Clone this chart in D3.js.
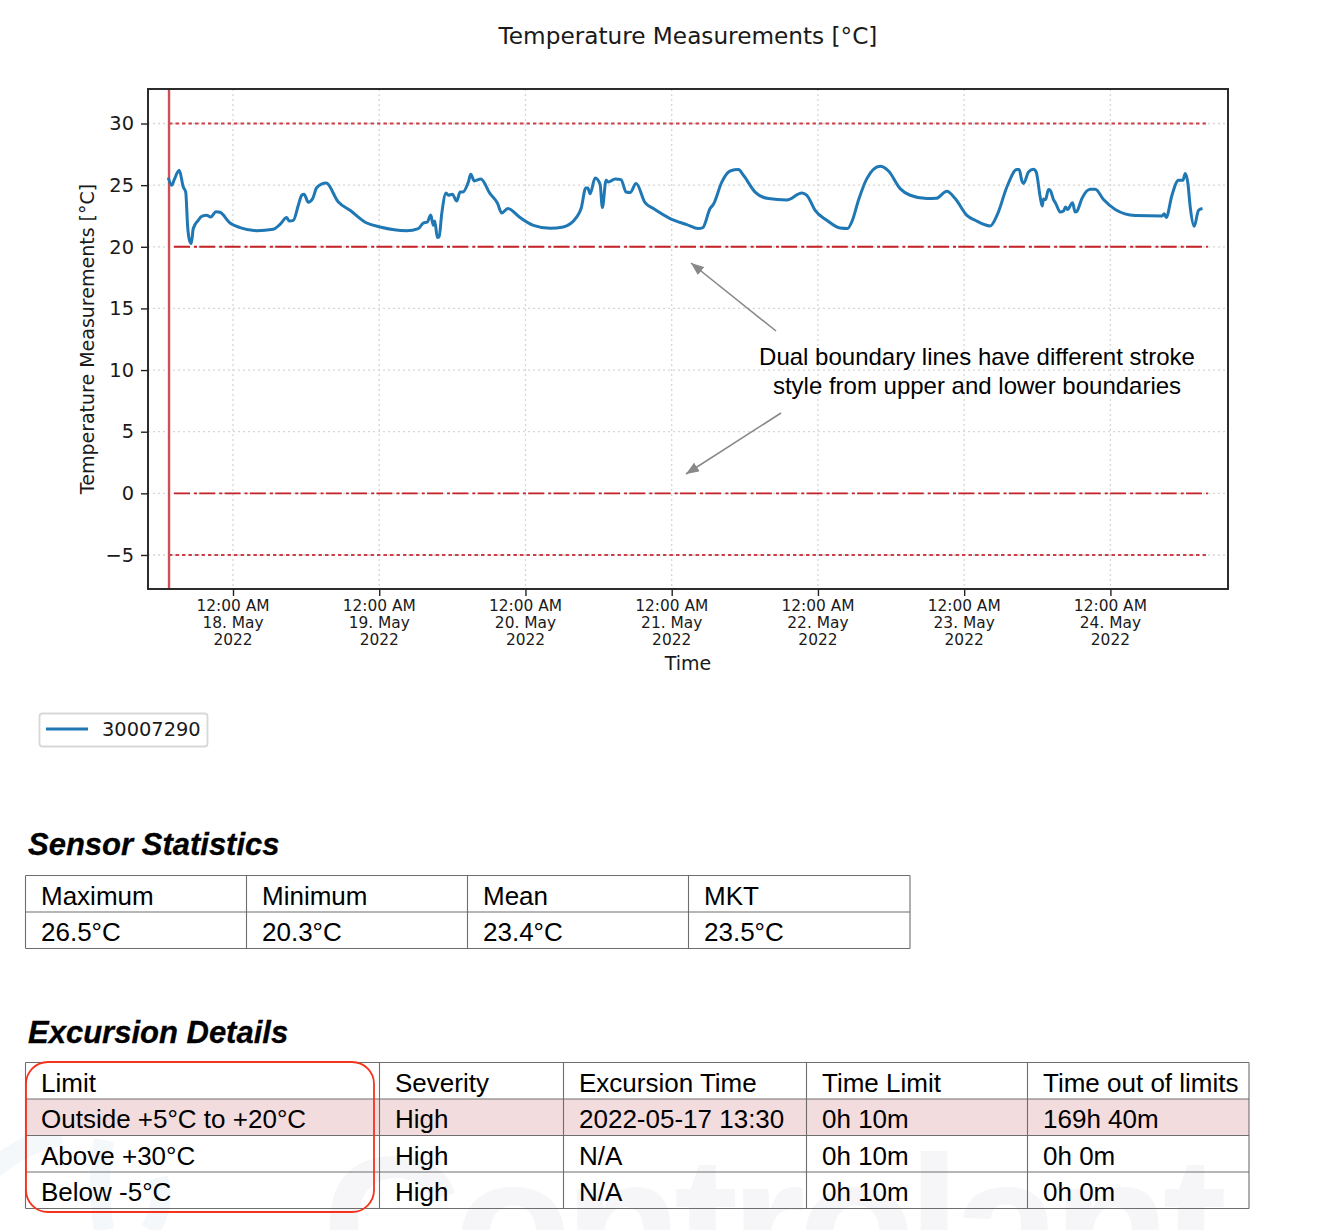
<!DOCTYPE html>
<html>
<head>
<meta charset="utf-8">
<script src="https://cdn.jsdelivr.net/npm/d3@7"></script>
<style>
  html, body { margin: 0; padding: 0; background: #fff; }
  svg { display: block; }
  .mpl { font-family: "DejaVu Sans"; fill: #1a1a1a; }
  .doc { font-family: "Liberation Sans"; fill: #000; }
</style>
</head>
<body>
<svg id="page" width="1329" height="1230"></svg>
<script>
// hours since 18 May 2022 00:00
var hours = [-10.62,-10.06,-9.64,-8.82,-8.16,-7.76,-7.44,-7.17,-6.85,-6.52,-5.70,-5.14,-4.32,-3.66,-2.79,-2.13,-0.49,1.15,3.89,6.62,7.72,8.82,9.24,9.90,10.72,11.28,11.66,12.36,13.08,13.74,15.27,17.29,19.21,21.95,24.13,28.51,30.42,31.24,31.90,32.45,32.88,33.11,33.54,33.82,34.26,34.97,35.34,36.00,36.72,37.26,37.71,38.63,39.02,39.61,40.66,42.19,43.39,44.11,45.10,47.11,49.30,52.04,54.22,56.42,57.13,57.90,58.23,58.61,59.43,60.25,60.62,61.23,61.61,62.71,63.69,64.51,65.17,66.16,67.63,69.00,71.74,74.48,76.38,77.11,78.30,78.85,80.22,81.59,82.95,83.77,85.69,87.87,90.90,93.36,94.18,95.54,97.46,99.65,100.84,101.66,102.65,104.03,106.21,107.58,109.49,111.14,113.88,115.40,117.16,118.52,120.44,121.81,124.27,125.47,127.01,128.65,129.03,129.47,129.74,130.56,131.38,131.82,132.48,132.81,133.02,133.35,133.84,134.12,134.66,135.05,135.76,136.30,136.63,136.96,137.78,138.22,138.50,139.32,140.69,141.51,142.87,144.79,148.07,152.45,152.83,153.16,154.10,155.18,155.90,156.28,156.72,157.10,157.76,158.46,159.12];
var temps = [25.61,24.99,25.45,26.20,24.85,24.44,21.61,20.58,20.26,21.48,22.15,22.47,22.55,22.42,22.85,22.80,21.93,21.56,21.31,21.42,21.82,22.37,22.09,22.15,23.37,24.18,24.26,23.61,23.91,24.80,25.17,23.63,22.96,21.93,21.61,21.31,21.48,21.93,22.01,22.58,21.74,22.09,20.75,20.79,22.69,24.36,24.18,24.26,23.71,24.44,24.44,25.26,25.88,25.34,25.50,24.31,23.55,22.74,23.10,22.37,21.74,21.50,21.61,22.42,23.10,24.77,24.77,24.31,25.58,25.07,23.18,25.39,25.25,25.50,25.45,24.44,24.40,25.13,23.58,23.10,22.29,21.80,21.48,21.56,23.10,23.45,25.25,26.15,26.26,25.80,24.44,23.91,23.80,24.36,24.18,22.96,22.15,21.52,21.48,22.15,23.77,25.53,26.53,26.15,24.72,24.18,23.91,23.93,24.50,23.91,22.55,22.15,21.69,22.64,24.85,26.26,26.26,25.34,25.13,26.07,26.29,26.07,24.04,23.31,23.88,23.83,24.64,24.58,23.83,23.50,22.82,22.90,23.23,23.02,23.58,22.82,22.88,23.91,24.66,24.66,23.83,23.02,22.53,22.50,22.69,22.37,24.18,25.39,25.39,25.94,25.13,23.23,21.66,22.96,23.10];

var yTicks = [-5, 0, 5, 10, 15, 20, 25, 30];
var tickDays = [18, 19, 20, 21, 22, 23, 24];
var upperLower = [30, -5];
var dualBounds = [20, 0];
var excursionStart = -10.5;
var boundaryEnd = 160;
var seriesName = '30007290';

var statsHead = ['Maximum', 'Minimum', 'Mean', 'MKT'];
var statsRow = ['26.5°C', '20.3°C', '23.4°C', '23.5°C'];
var excursionHead = ['Limit', 'Severity', 'Excursion Time', 'Time Limit', 'Time out of limits'];
var excursionRows = [
  ['Outside +5°C to +20°C', 'High', '2022-05-17 13:30', '0h 10m', '169h 40m'],
  ['Above +30°C', 'High', 'N/A', '0h 10m', '0h 0m'],
  ['Below -5°C', 'High', 'N/A', '0h 10m', '0h 0m']
];

var svg = d3.select('#page');

// watermark sits behind everything
var mark = svg.append('g').attr('fill', '#f6f6f8');
mark.append('text')
  .attr('x', 322).attr('y', 1292)
  .attr('font-family', 'Liberation Sans').attr('font-weight', 'bold')
  .attr('font-size', 194).attr('textLength', 905)
  .text('Controlant');
// faint logo swooshes at the left edge
mark.append('path')
  .attr('d', 'M-6,1168 Q30,1140 62,1136 M104,1230 Q96,1180 104,1140 M150,1230 Q166,1205 158,1178')
  .attr('fill', 'none').attr('stroke', '#f5f8fb').attr('stroke-width', 20);

// plot area (plotTop because window.top can't be reassigned)
var plotLeft = 148, plotRight = 1228, plotTop = 89, plotBottom = 589;
function hourDate(h) { return new Date(Date.UTC(2022, 4, 18) + h * 3600000); }

var x = d3.scaleUtc().domain([hourDate(-13.95), hourDate(163.3)]).range([plotLeft, plotRight]);
var y = d3.scaleLinear().domain([-7.76, 32.8]).range([plotBottom, plotTop]);

// title + axis labels
svg.append('text').attr('class', 'mpl').attr('x', 688).attr('y', 44)
  .attr('text-anchor', 'middle').attr('font-size', 23.2).text('Temperature Measurements [°C]');
svg.append('text').attr('class', 'mpl').attr('x', 688).attr('y', 670)
  .attr('text-anchor', 'middle').attr('font-size', 19).text('Time');
svg.append('text').attr('class', 'mpl')
  .attr('transform', 'translate(94,339) rotate(-90)')
  .attr('text-anchor', 'middle').attr('font-size', 19).text('Temperature Measurements [°C]');

// dotted grid
var tickDates = tickDays.map(function (d) { return new Date(Date.UTC(2022, 4, d)); });
svg.append('g').selectAll('line').data(tickDates).join('line')
  .attr('x1', function (d) { return x(d); }).attr('x2', function (d) { return x(d); })
  .attr('y1', plotTop).attr('y2', plotBottom)
  .attr('stroke', '#d6d6d6').attr('stroke-width', 1.3).attr('stroke-dasharray', '2 3');
svg.append('g').selectAll('line').data(yTicks).join('line')
  .attr('x1', plotLeft).attr('x2', plotRight)
  .attr('y1', function (d) { return y(d); }).attr('y2', function (d) { return y(d); })
  .attr('stroke', '#d6d6d6').attr('stroke-width', 1.3).attr('stroke-dasharray', '2 3');

// boundaries
svg.append('g').selectAll('line').data(upperLower).join('line')
  .attr('x1', x(hourDate(excursionStart))).attr('x2', x(hourDate(boundaryEnd)))
  .attr('y1', function (d) { return y(d); }).attr('y2', function (d) { return y(d); })
  .attr('stroke', '#cc3d46').attr('stroke-width', 2).attr('stroke-dasharray', '3.4 3.1');
svg.append('g').selectAll('line').data(dualBounds).join('line')
  .attr('x1', x(hourDate(excursionStart)) + 5).attr('x2', x(hourDate(boundaryEnd)))
  .attr('y1', function (d) { return y(d); }).attr('y2', function (d) { return y(d); })
  .attr('stroke', '#c42026').attr('stroke-width', 1.9).attr('stroke-dasharray', '16 4 3 2.3');

// excursion start marker
svg.append('line')
  .attr('x1', x(hourDate(excursionStart))).attr('x2', x(hourDate(excursionStart)))
  .attr('y1', plotTop).attr('y2', plotBottom)
  .attr('stroke', '#cc5055').attr('stroke-width', 2.4);

// sensor trace
var line = d3.line()
  .x(function (d, i) { return x(hourDate(hours[i])); })
  .y(function (d) { return y(d); })
  .curve(d3.curveMonotoneX);
svg.append('path').datum(temps)
  .attr('d', line).attr('fill', 'none')
  .attr('stroke', '#1f77b4').attr('stroke-width', 3).attr('stroke-linejoin', 'round');

// axes
var yAxis = d3.axisLeft(y).tickValues(yTicks).tickSize(7).tickPadding(7)
  .tickFormat(function (d) { return d < 0 ? '\u2212' + Math.abs(d) : d; });
var yG = svg.append('g').attr('transform', 'translate(' + plotLeft + ',0)').call(yAxis);
yG.select('.domain').remove();
yG.selectAll('text').attr('class', 'mpl').attr('font-family', 'DejaVu Sans').attr('font-size', 19.4);
yG.selectAll('line').attr('stroke', '#222').attr('stroke-width', 1.4);

var xAxis = d3.axisBottom(x).tickValues(tickDates).tickSize(7).tickFormat('');
var xG = svg.append('g').attr('transform', 'translate(0,' + plotBottom + ')').call(xAxis);
xG.select('.domain').remove();
xG.selectAll('line').attr('stroke', '#222').attr('stroke-width', 1.4);

// three line tick labels
tickDays.forEach(function (d, i) {
  var t = svg.append('text').attr('class', 'mpl')
    .attr('text-anchor', 'middle').attr('font-size', 15.4);
  ['12:00 AM', d + '. May', '2022'].forEach(function (s, k) {
    t.append('tspan').attr('x', x(tickDates[i])).attr('y', 611 + k * 17.2).text(s);
  });
});

svg.append('rect').attr('x', plotLeft).attr('y', plotTop)
  .attr('width', plotRight - plotLeft).attr('height', plotBottom - plotTop)
  .attr('fill', 'none').attr('stroke', '#222').attr('stroke-width', 1.9);

// annotation
svg.append('defs').append('marker').attr('id', 'tip')
  .attr('viewBox', '0 0 10 8').attr('refX', 10).attr('refY', 4)
  .attr('markerWidth', 13).attr('markerHeight', 10.4).attr('markerUnits', 'userSpaceOnUse')
  .attr('orient', 'auto')
  .append('path').attr('d', 'M0,0 L10,4 L0,8 Z').attr('fill', '#888');
[[776, 331, 691, 263], [781, 413, 686, 474]].forEach(function (a) {
  svg.append('line').attr('x1', a[0]).attr('y1', a[1]).attr('x2', a[2]).attr('y2', a[3])
    .attr('stroke', '#888').attr('stroke-width', 1.6).attr('marker-end', 'url(#tip)');
});
['Dual boundary lines have different stroke', 'style from upper and lower boundaries'].forEach(function (s, i) {
  svg.append('text').attr('class', 'doc').attr('x', 977).attr('y', 365 + i * 29)
    .attr('text-anchor', 'middle').attr('font-size', 24).text(s);
});

// legend
svg.append('rect').attr('x', 39.5).attr('y', 713.5).attr('width', 168).attr('height', 33).attr('rx', 3)
  .attr('fill', '#fff').attr('stroke', '#d8d8d8').attr('stroke-width', 1.8);
svg.append('line').attr('x1', 46).attr('x2', 88).attr('y1', 729).attr('y2', 729)
  .attr('stroke', '#1f77b4').attr('stroke-width', 3);
svg.append('text').attr('class', 'mpl').attr('x', 102).attr('y', 736)
  .attr('font-size', 19.4).text(seriesName);

// tables are drawn from the rows above
function drawTable(title, titleY, rows, colX, rowY, highlight) {
  svg.append('text').attr('class', 'doc').attr('x', 28).attr('y', titleY)
    .attr('font-size', 31).attr('font-weight', 'bold').attr('font-style', 'italic')
    .attr('stroke', '#000').attr('stroke-width', 0.3).text(title);
  var w = colX[colX.length - 1];
  if (highlight !== null) {
    svg.append('rect').attr('x', colX[0]).attr('y', rowY[highlight])
      .attr('width', w - colX[0]).attr('height', rowY[highlight + 1] - rowY[highlight])
      .attr('fill', '#f2dcdd');
  }
  rowY.forEach(function (ry) {
    svg.append('line').attr('x1', colX[0]).attr('x2', w).attr('y1', ry).attr('y2', ry)
      .attr('stroke', '#6e6e6e').attr('stroke-width', 1.1);
  });
  colX.forEach(function (cx) {
    svg.append('line').attr('x1', cx).attr('x2', cx).attr('y1', rowY[0]).attr('y2', rowY[rowY.length - 1])
      .attr('stroke', '#6e6e6e').attr('stroke-width', 1.1);
  });
  rows.forEach(function (r, i) {
    r.forEach(function (s, j) {
      svg.append('text').attr('class', 'doc')
        .attr('x', colX[j] + 15.5).attr('y', rowY[i] + 29)
        .attr('font-size', 26).text(s);
    });
  });
}

drawTable('Sensor Statistics', 855, [statsHead, statsRow],
  [25.5, 246.5, 467.5, 688.5, 910], [875.5, 912, 948.5], null);
drawTable('Excursion Details', 1043, [excursionHead].concat(excursionRows),
  [25.5, 379.5, 563.5, 806.5, 1027.5, 1249], [1062.5, 1099, 1135.5, 1172, 1208.5], 1);

// hand drawn highlight around the limit column
svg.append('rect').attr('x', 26).attr('y', 1062).attr('width', 348).attr('height', 150).attr('rx', 22)
  .attr('fill', 'none').attr('stroke', '#f5321c').attr('stroke-width', 1.8);
</script>
</body>
</html>
